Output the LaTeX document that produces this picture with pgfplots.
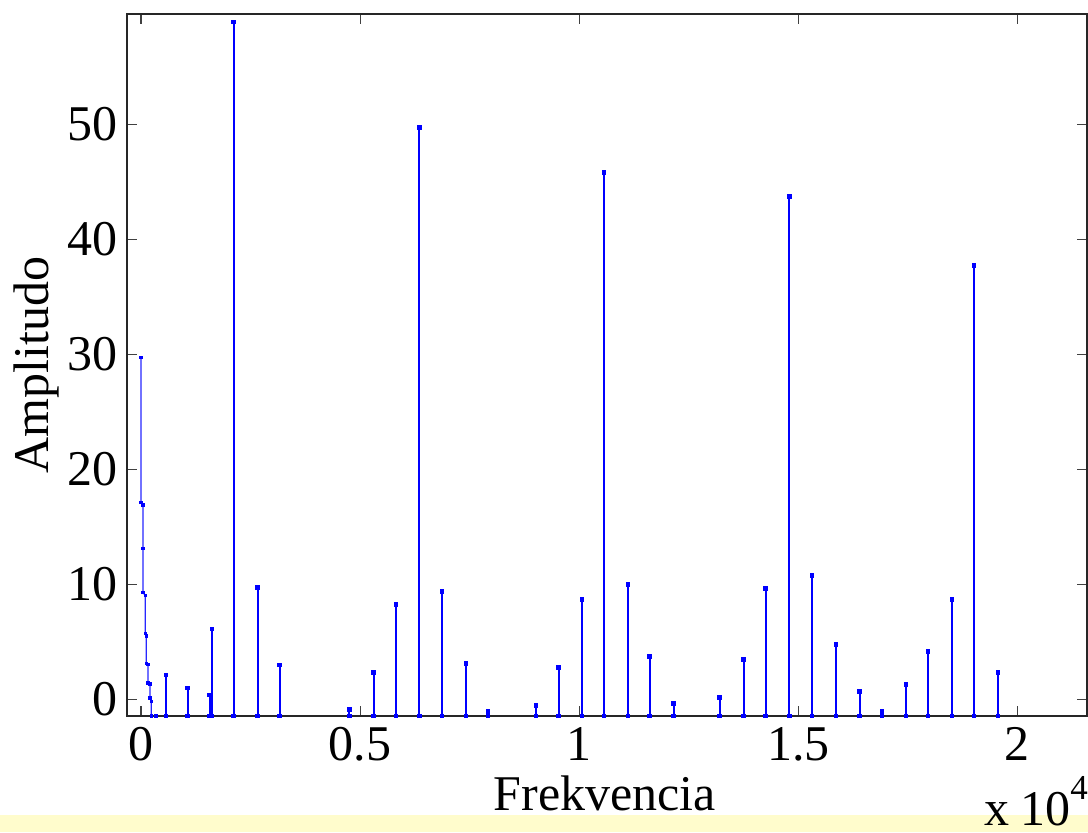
\documentclass[border=0pt]{standalone}
\usepackage{fontspec}
\setmainfont{Liberation Serif}
\usepackage{pgfplots}
\pgfplotsset{compat=1.18}
\definecolor{stripyellow}{RGB}{255,252,204}
\definecolor{mblue}{RGB}{0,0,255}

\begin{document}
\begin{tikzpicture}
\useasboundingbox (0pt,0pt) rectangle (544pt,416pt);
\fill[stripyellow] (0pt,0pt) rectangle (544pt,8.5pt);
\begin{axis}[
  at={(63.35pt,58pt)}, anchor=south west,
  scale only axis, width=480.15pt, height=351pt,
  xmin=-326, xmax=21586, ymin=-1.47, ymax=59.6,
  xtick={0,5000,10000,15000,20000}, xticklabels={0,0.5,1,1.5,2},
  ytick={0,10,20,30,40,50}, yticklabels={0,10,20,30,40,50},
  scaled x ticks=false, scaled y ticks=false,
  tick align=inside, major tick length=5pt,
  tick style={black!75, line width=0.6pt},
  axis line style={black!85, line width=1pt},
  axis on top,
  ticklabel style={font=\fontsize{25}{30}\selectfont, inner sep=0pt},
  xticklabel style={yshift=-5.5pt},
  yticklabel style={xshift=-4.5pt},
]
\addplot[mblue!85, line width=0.7pt, mark=square*, mark size=0.5pt, mark options={solid, mblue}] coordinates {
(0,29.7) (0,17.1) (46,16.9) (46,13.1) (46,9.3) (98,9.0) (98,5.7) (121,5.5) (121,3.1)
(160,3.0) (160,1.4) (205,1.3) (205,0.1) (235,-0.2) (235,-1.47) (338,-1.47)
};
\addplot[mblue, line width=1pt, mark=square*, mark size=0.65pt, mark options={solid}] coordinates {
(338,-1.47)
(570,-1.47) (570,2.1) (570,-1.47)
(1063,-1.47) (1063,0.95) (1063,-1.47)
(1570,-1.47) (1570,0.35) (1570,-1.47)
(1620,-1.47) (1620,6.1) (1620,-1.47)
(2113,-1.47) (2113,58.9) (2113,-1.47)
(2660,-1.47) (2660,9.7) (2660,-1.47)
(3167,-1.47) (3167,2.95) (3167,-1.47)
(4757,-1.47) (4757,-0.9) (4757,-1.47)
(5307,-1.47) (5307,2.3) (5307,-1.47)
(5818,-1.47) (5818,8.24) (5818,-1.47)
(6350,-1.47) (6350,49.7) (6350,-1.47)
(6868,-1.47) (6868,9.37) (6868,-1.47)
(7415,-1.47) (7415,3.1) (7415,-1.47)
(7917,-1.47) (7917,-1.07) (7917,-1.47)
(9012,-1.47) (9012,-0.55) (9012,-1.47)
(9528,-1.47) (9528,2.76) (9528,-1.47)
(10062,-1.47) (10062,8.68) (10062,-1.47)
(10563,-1.47) (10563,45.8) (10563,-1.47)
(11111,-1.47) (11111,9.98) (11111,-1.47)
(11604,-1.47) (11604,3.72) (11604,-1.47)
(12152,-1.47) (12152,-0.37) (12152,-1.47)
(13201,-1.47) (13201,0.15) (13201,-1.47)
(13749,-1.47) (13749,3.46) (13749,-1.47)
(14251,-1.47) (14251,9.63) (14251,-1.47)
(14791,-1.47) (14791,43.7) (14791,-1.47)
(15309,-1.47) (15309,10.77) (15309,-1.47)
(15857,-1.47) (15857,4.76) (15857,-1.47)
(16395,-1.47) (16395,0.67) (16395,-1.47)
(16906,-1.47) (16906,-1.1) (16906,-1.47)
(17454,-1.47) (17454,1.28) (17454,-1.47)
(17956,-1.47) (17956,4.15) (17956,-1.47)
(18503,-1.47) (18503,8.68) (18503,-1.47)
(19012,-1.47) (19012,37.7) (19012,-1.47)
(19553,-1.47) (19553,2.32) (19553,-1.47)
};
\end{axis}
\node[rotate=90, anchor=base, inner sep=0pt, font=\fontsize{25}{30}\selectfont] at (24pt,233.5pt) {Amplitudo};
\node[anchor=base, inner sep=0pt, font=\fontsize{25}{30}\selectfont] at (302.5pt,11pt) {Frekvencia};
\node[anchor=base west, inner sep=0pt, font=\fontsize{25}{30}\selectfont] at (492pt,3.5pt) {x\hspace{0.22em}10\raisebox{13pt}{\fontsize{17.5}{20}\selectfont 4}};
\end{tikzpicture}
\end{document}
